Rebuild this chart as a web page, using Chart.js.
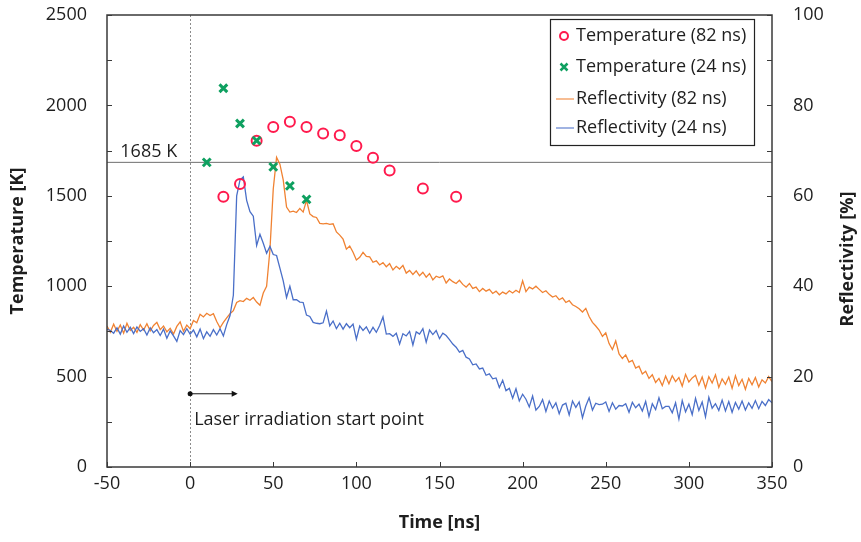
<!DOCTYPE html>
<html>
<head>
<meta charset="utf-8">
<script src="https://cdn.jsdelivr.net/npm/chart.js@4.4.0/dist/chart.umd.min.js"></script>
<style>
html,body{margin:0;padding:0;background:#fff;}
#wrap{width:861px;height:542px;position:relative;}
</style>
</head>
<body>
<div id="wrap"><canvas id="c" width="861" height="542"></canvas></div>
<script>
// ---- data ----
const times = [
-50,-48,-46,-44,-42,-40,-38,-36,-34,-32,
-30,-28,-26,-24,-22,-20,-18,-16,-14,-12,
-10,-8,-6,-4,-2,0,2,4,6,8,
10,12,14,16,18,20,22,24,26,28,
30,32,34,36,38,40,42,44,46,48,
50,52,54,56,58,60,62,64,66,68,
70,72,74,76,78,80,82,84,86,88,
90,92,94,96,98,100,102,104,106,108,
110,112,114,116,118,120,122,124,126,128,
130,132,134,136,138,140,142,144,146,148,
150,152,154,156,158,160,162,164,166,168,
170,172,174,176,178,180,182,184,186,188,
190,192,194,196,198,200,202,204,206,208,
210,212,214,216,218,220,222,224,226,228,
230,232,234,236,238,240,242,244,246,248,
250,252,254,256,258,260,262,264,266,268,
270,272,274,276,278,280,282,284,286,288,
290,292,294,296,298,300,302,304,306,308,
310,312,314,316,318,320,322,324,326,328,
330,332,334,336,338,340,342,344,346,348,
350];

// Reflectivity (24 ns pulse) [%]
const refl24 = [
30.5,30.2,29.6,30.8,29.4,31.2,29.8,30.9,29.5,31.0,
30.0,30.6,29.2,30.8,29.7,30.4,29.1,30.5,28.5,30.1,
29.0,27.8,30.2,29.3,30.6,29.4,30.3,28.8,30.5,28.4,
29.9,28.9,30.4,29.2,30.6,29.0,31.5,33.5,38.0,60.0,
63.5,64.2,59.0,56.5,55.5,49.0,51.5,49.5,47.3,48.8,
47.0,46.8,44.0,41.2,37.5,40.0,37.0,37.0,36.5,36.4,
33.6,33.3,32.0,31.8,31.7,31.9,34.5,31.2,32.3,30.6,
31.8,30.5,31.7,30.8,31.6,28.3,31.2,30.2,31.0,29.6,
30.9,29.8,31.3,33.2,29.4,29.5,28.9,29.6,27.2,29.5,
29.0,30.0,27.0,29.9,29.4,30.6,27.6,30.3,29.3,30.2,
28.4,29.6,29.1,28.2,27.2,26.5,25.4,25.8,24.3,23.9,
22.6,22.8,21.7,21.9,20.3,20.6,19.5,19.7,17.6,19.2,
16.9,17.4,15.2,17.3,14.6,16.1,15.0,13.3,15.7,12.6,
13.4,14.9,12.3,14.6,13.0,14.2,11.8,13.7,14.1,11.5,
14.6,13.2,14.4,10.9,13.5,15.3,12.6,14.1,13.8,13.9,
14.4,12.3,14.2,12.8,13.6,13.5,14.0,12.1,14.3,13.1,
13.9,12.4,14.5,11.2,14.0,12.7,15.3,12.9,13.4,13.4,
12.0,14.2,10.6,14.7,12.2,13.9,11.6,15.2,12.5,14.4,
11.1,15.4,13.0,14.0,12.5,14.8,12.4,14.5,12.1,14.3,
12.8,14.6,12.6,14.2,13.0,14.7,12.9,14.5,13.6,14.9,
14.2];

// Reflectivity (82 ns pulse) [%]
const refl82 = [
31.2,29.8,31.6,30.0,31.4,29.6,31.8,30.2,30.9,29.8,
31.5,30.3,31.7,30.1,31.3,32.0,30.4,31.2,29.9,30.7,
29.4,31.1,32.1,30.0,31.4,30.6,32.4,31.9,33.8,33.2,
34.0,33.5,33.9,32.2,30.8,32.0,33.0,33.9,34.6,36.4,
36.8,36.6,37.3,36.9,37.5,36.5,35.8,38.5,40.0,48.0,
61.5,68.5,67.0,63.5,57.5,56.4,56.6,56.3,57.2,56.4,
59.0,56.0,55.4,55.2,53.9,53.8,53.9,53.7,53.8,52.0,
51.3,50.4,48.2,48.9,47.5,45.8,46.4,47.5,46.6,46.5,
45.3,45.6,44.7,45.2,44.3,45.0,43.6,44.4,43.8,44.6,
42.9,43.5,42.6,43.4,42.3,43.1,42.0,42.8,41.4,42.2,
41.9,42.3,40.7,41.6,41.0,40.6,41.3,40.4,39.8,40.6,
39.5,39.8,38.8,39.5,38.9,39.3,38.4,38.9,38.1,38.7,
38.3,39.0,38.5,39.1,38.6,41.2,38.8,39.8,39.4,40.0,
39.3,38.6,39.0,38.2,37.6,37.9,37.0,37.4,36.4,36.8,
35.9,35.5,35.0,34.3,35.1,33.3,32.0,31.2,30.3,28.9,
29.7,27.3,26.0,27.9,25.0,24.0,24.8,23.2,23.6,21.9,
22.3,20.6,21.2,19.6,20.4,18.7,19.6,18.0,20.1,18.4,
20.2,18.9,19.8,17.9,20.5,18.8,19.7,20.3,18.1,19.9,
17.5,20.0,18.6,20.4,17.6,19.5,18.3,19.9,17.4,20.2,
18.0,19.4,17.2,19.6,18.2,19.8,17.7,19.3,18.6,20.0,
18.9];

// Temperature measurements [K]
const temp82Times = [20,30,40,50,60,70,80,90,100,110,120,140,160];
const temp82 = [1495,1565,1805,1880,1910,1880,1845,1835,1775,1710,1640,1540,1495];
const temp24Times = [10,20,30,40,50,60,70];
const temp24 = [1685,2095,1900,1805,1660,1555,1480];

// Melting point reference line
const meltTemp = 1685;
const meltLabel = '1685 K';

// Axis ticks
const xTicks = [-50,0,50,100,150,200,250,300,350];
const tempTicks = [0,500,1000,1500,2000,2500];
const reflTicks = [0,20,40,60,80,100];

const seriesNames = ['Temperature (82 ns)','Temperature (24 ns)','Reflectivity (82 ns)','Reflectivity (24 ns)'];
const laserLabel = 'Laser irradiation start point';
const xTitle = 'Time [ns]', yTitle = 'Temperature [K]', y2Title = 'Reflectivity [%]';

// ---- styles ----
const FONT = "'Open Sans', sans-serif";
const FS = 18;
const C_RED = '#ff1a4d';
const C_GREEN = '#0fa060';
const C_ORANGE = '#f08232';
const C_BLUE = '#4a6fc8';
const C_AXIS = '#3a3a3a';
const C_TEXT = '#1e1e1e';

const pairs = (xs, ys) => xs.map((x, i) => ({x, y: ys[i]}));

const decor = {
  id: 'decor',
  beforeDatasetsDraw(chart) {
    const {ctx, chartArea: a, scales: {x}} = chart;
    const px = Math.round(x.getPixelForValue(0)) + 0.5;
    ctx.save();
    ctx.strokeStyle = '#8c8c8c';
    ctx.lineWidth = 1;
    ctx.setLineDash([2, 2]);
    ctx.beginPath(); ctx.moveTo(px, a.top); ctx.lineTo(px, a.bottom); ctx.stroke();
    ctx.restore();
  },
  afterDraw(chart) {
    const {ctx, chartArea: a, scales: {x, y, y2}} = chart;
    ctx.save();
    // box
    ctx.strokeStyle = C_AXIS;
    ctx.lineWidth = 1.5;
    ctx.strokeRect(a.left, a.top, a.right - a.left, a.bottom - a.top);
    // inward ticks
    ctx.lineWidth = 1;
    const tl = 5;
    ctx.beginPath();
    for (let v = 0; v <= 2500; v += 250) {
      const py = Math.round(y.getPixelForValue(v)) + 0.5;
      ctx.moveTo(a.left, py); ctx.lineTo(a.left + tl, py);
    }
    for (let v = 0; v <= 100; v += 10) {
      const py = Math.round(y2.getPixelForValue(v)) + 0.5;
      ctx.moveTo(a.right, py); ctx.lineTo(a.right - tl, py);
    }
    xTicks.forEach(v => {
      const px = Math.round(x.getPixelForValue(v)) + 0.5;
      ctx.moveTo(px, a.bottom); ctx.lineTo(px, a.bottom - tl);
    });
    ctx.stroke();

    // right axis title (reads bottom to top)
    ctx.save();
    ctx.translate(848, (a.top + a.bottom) / 2 + 18);
    ctx.rotate(-Math.PI / 2);
    ctx.font = 'bold ' + FS + 'px ' + FONT;
    ctx.fillStyle = C_TEXT;
    ctx.textAlign = 'center';
    ctx.textBaseline = 'middle';
    ctx.fillText(y2Title, 0, 0);
    ctx.restore();

    // 1685 K label
    ctx.fillStyle = C_TEXT;
    ctx.font = FS + 'px ' + FONT;
    ctx.textAlign = 'left';
    ctx.textBaseline = 'bottom';
    ctx.fillText(meltLabel, x.getPixelForValue(-42), y.getPixelForValue(meltTemp) - 1);

    // laser start arrow
    const ay = y.getPixelForValue(405);
    const ax0 = x.getPixelForValue(0), ax1 = x.getPixelForValue(28);
    ctx.strokeStyle = '#111'; ctx.fillStyle = '#111'; ctx.lineWidth = 1;
    ctx.beginPath(); ctx.arc(ax0, ay, 2.5, 0, Math.PI * 2); ctx.fill();
    ctx.beginPath(); ctx.moveTo(ax0, ay); ctx.lineTo(ax1 - 1, ay); ctx.stroke();
    ctx.beginPath(); ctx.moveTo(ax1 + 1, ay); ctx.lineTo(ax1 - 5, ay - 3); ctx.lineTo(ax1 - 5, ay + 3); ctx.closePath(); ctx.fill();
    ctx.fillStyle = C_TEXT;
    ctx.textBaseline = 'middle';
    ctx.fillText(laserLabel, ax0 + 4, y.getPixelForValue(258));

    // legend
    const lw = 204, lh = 126;
    const lx = a.right - 18 - lw, ly = a.top + 4;
    ctx.fillStyle = '#fff';
    ctx.fillRect(lx, ly, lw, lh);
    ctx.strokeStyle = '#222'; ctx.lineWidth = 1.2;
    ctx.strokeRect(lx + 0.5, ly + 0.5, lw, lh);
    const rows = [17, 48, 80, 109];
    const mx = lx + 14, tx = lx + 26;
    ctx.font = FS + 'px ' + FONT;
    ctx.textBaseline = 'middle';
    ctx.textAlign = 'left';
    ctx.strokeStyle = C_RED; ctx.lineWidth = 2;
    ctx.beginPath(); ctx.arc(mx, ly + rows[0], 4, 0, Math.PI * 2); ctx.stroke();
    ctx.strokeStyle = C_GREEN; ctx.lineWidth = 2.5;
    ctx.beginPath();
    ctx.moveTo(mx - 3.5, ly + rows[1] - 3.5); ctx.lineTo(mx + 3.5, ly + rows[1] + 3.5);
    ctx.moveTo(mx + 3.5, ly + rows[1] - 3.5); ctx.lineTo(mx - 3.5, ly + rows[1] + 3.5);
    ctx.stroke();
    ctx.lineWidth = 1.5;
    ctx.globalAlpha = 0.7;
    ctx.strokeStyle = C_ORANGE;
    ctx.beginPath(); ctx.moveTo(lx + 6, ly + rows[2]); ctx.lineTo(lx + 24, ly + rows[2]); ctx.stroke();
    ctx.strokeStyle = C_BLUE;
    ctx.beginPath(); ctx.moveTo(lx + 6, ly + rows[3]); ctx.lineTo(lx + 24, ly + rows[3]); ctx.stroke();
    ctx.globalAlpha = 1;
    ctx.fillStyle = C_TEXT;
    seriesNames.forEach((n, i) => ctx.fillText(n, tx, ly + rows[i]));
    ctx.restore();
  }
};

const plain = v => String(v);
const noVPad = s => { s.paddingTop = 0; s.paddingBottom = 0; };

new Chart(document.getElementById('c'), {
  type: 'line',
  data: {
    datasets: [
      {label: seriesNames[0], data: pairs(temp82Times, temp82), yAxisID: 'y', showLine: false,
       pointStyle: 'circle', pointRadius: 5, pointBorderWidth: 2, borderColor: C_RED,
       pointBorderColor: C_RED, pointBackgroundColor: 'rgba(0,0,0,0)', order: 1},
      {label: seriesNames[1], data: pairs(temp24Times, temp24), yAxisID: 'y', showLine: false,
       pointStyle: 'crossRot', pointRadius: 5.5, pointBorderWidth: 3, borderColor: C_GREEN,
       pointBorderColor: C_GREEN, order: 0},
      {label: seriesNames[2], data: pairs(times, refl82), yAxisID: 'y2', borderColor: C_ORANGE,
       borderWidth: 1.3, pointRadius: 0, tension: 0, order: 3},
      {label: seriesNames[3], data: pairs(times, refl24), yAxisID: 'y2', borderColor: C_BLUE,
       borderWidth: 1.3, pointRadius: 0, tension: 0, order: 2},
      {label: 'melt', data: pairs([-50, 350], [meltTemp, meltTemp]), yAxisID: 'y', borderColor: '#6e6e6e',
       borderWidth: 1, pointRadius: 0, order: 4}
    ]
  },
  options: {
    responsive: false,
    animation: false,
    devicePixelRatio: 1,
    layout: {padding: {top: 15, left: 0, right: 0, bottom: 0}},
    plugins: {legend: {display: false}, tooltip: {enabled: false}},
    scales: {
      x: {
        type: 'linear', min: -50, max: 350,
        afterBuildTicks: s => { s.ticks = xTicks.map(v => ({value: v})); },
        afterFit: s => { s.height = 75; s.paddingLeft = 0; s.paddingRight = 0; },
        grid: {display: false, drawTicks: false},
        border: {display: false},
        ticks: {color: C_TEXT, font: {family: FONT, size: FS}, padding: 6, maxRotation: 0, callback: plain},
        title: {display: true, text: xTitle, color: C_TEXT, font: {family: FONT, size: FS, weight: 'bold'}, padding: {top: 8, bottom: 8}}
      },
      y: {
        position: 'left', min: 0, max: 2500,
        afterBuildTicks: s => { s.ticks = tempTicks.map(v => ({value: v})); },
        afterFit: s => { s.width = 107; noVPad(s); },
        grid: {display: false, drawTicks: false},
        border: {display: false},
        ticks: {color: C_TEXT, font: {family: FONT, size: FS}, padding: 20, callback: plain},
        title: {display: true, text: yTitle, color: C_TEXT, font: {family: FONT, size: FS, weight: 'bold'}, padding: {top: 7, bottom: 7}}
      },
      y2: {
        position: 'right', min: 0, max: 100,
        afterBuildTicks: s => { s.ticks = reflTicks.map(v => ({value: v})); },
        afterFit: s => { s.width = 89; noVPad(s); },
        grid: {display: false, drawTicks: false},
        border: {display: false},
        ticks: {color: C_TEXT, font: {family: FONT, size: FS}, padding: 21, callback: plain},
        title: {display: false}
      }
    }
  },
  plugins: [decor]
});
</script>
</body>
</html>
